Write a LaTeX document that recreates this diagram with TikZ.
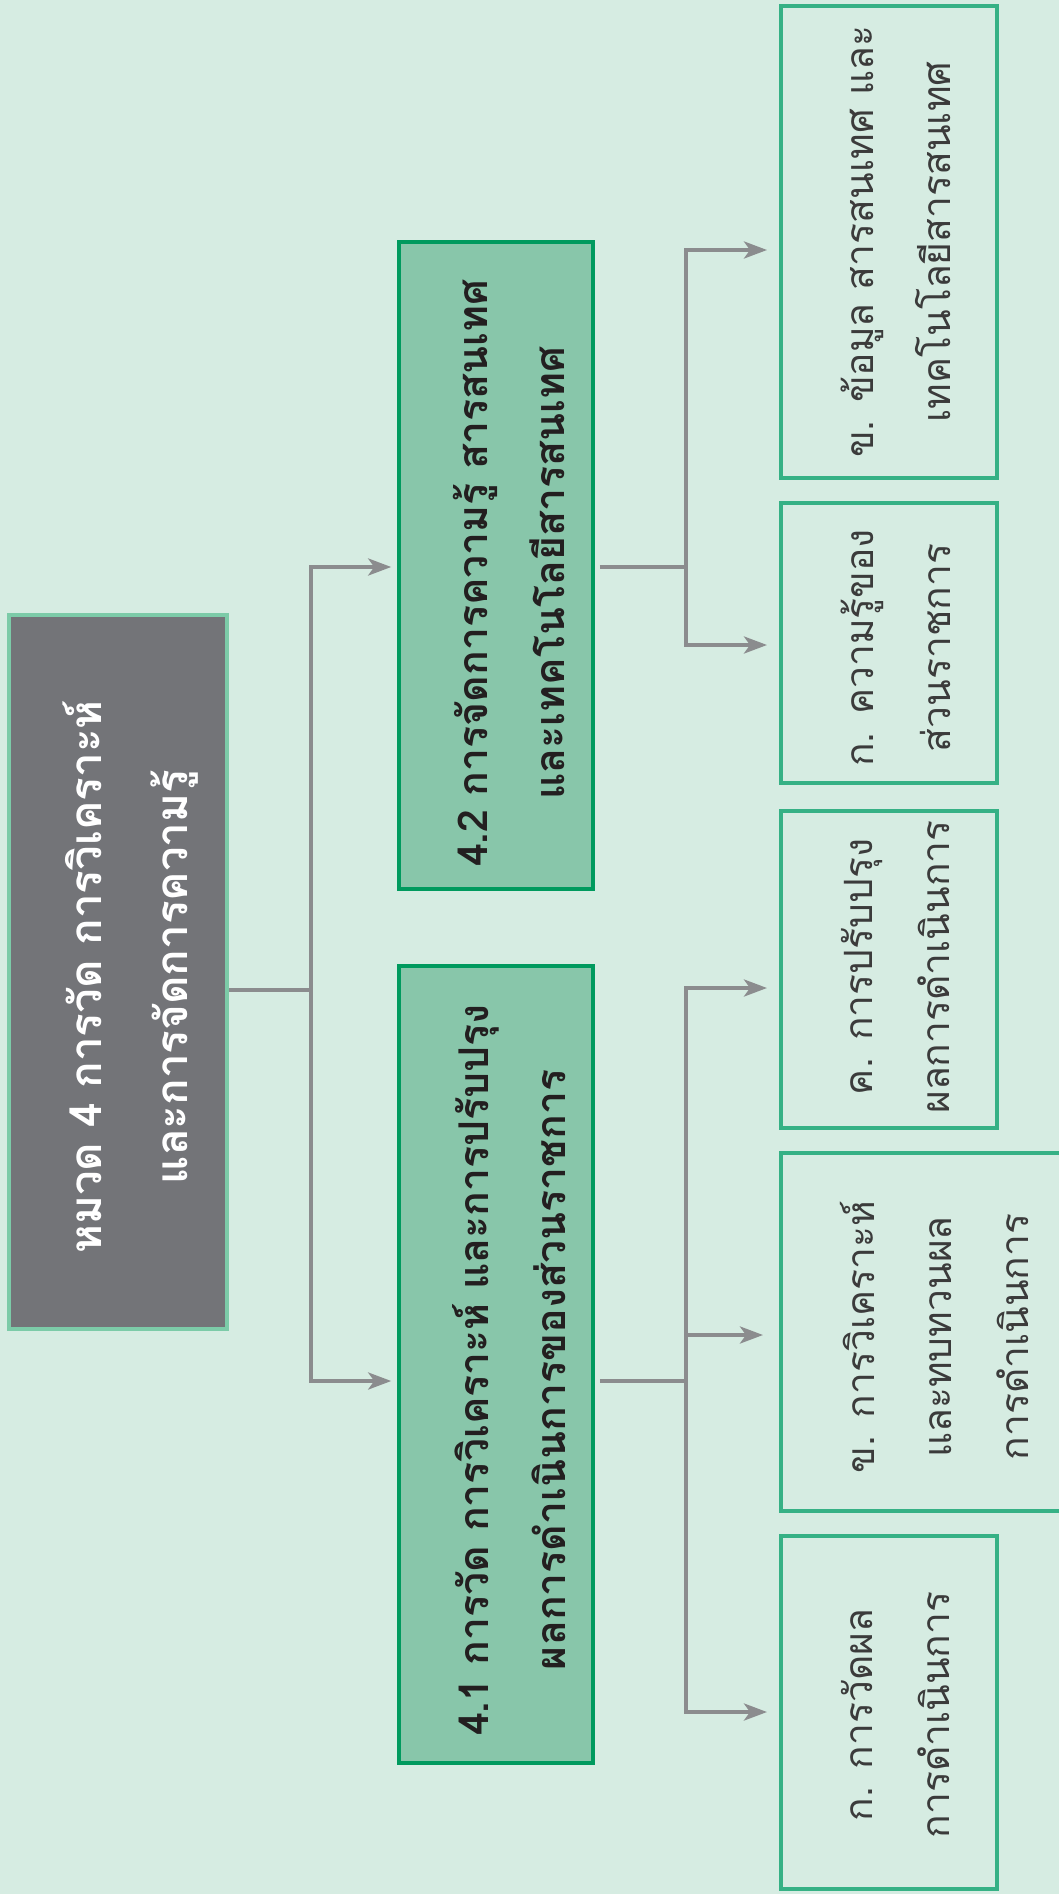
\documentclass[tikz,border=0pt]{standalone}
\usepackage{fontspec}
\newfontfamily\thaifont[Script=Thai]{Loma}
\usetikzlibrary{arrows.meta}
\definecolor{bgc}{HTML}{D6ECE2}
\definecolor{mainfill}{HTML}{737478}
\definecolor{mainline}{HTML}{7CCBA8}
\definecolor{midfill}{HTML}{88C6AA}
\definecolor{midline}{HTML}{009A5E}
\definecolor{leafline}{HTML}{36B185}
\definecolor{conncol}{HTML}{8B8C8E}
\definecolor{leaftext}{HTML}{3B3B3B}
\definecolor{midtext}{HTML}{231F20}
\tikzset{
  mainbox/.style={draw=mainline, fill=mainfill, line width=4pt, inner sep=0pt},
  midbox/.style={draw=midline, fill=midfill, line width=3.6pt, inner sep=0pt},
  leafbox/.style={draw=leafline, fill=bgc, line width=4pt, inner sep=0pt},
  txt/.style={rotate=90, align=center, inner sep=0pt},
  maintext/.style={txt, text=white, font=\thaifont\bfseries\fontsize{44pt}{86pt}\selectfont},
  midtext/.style={txt, text=midtext, font=\thaifont\bfseries\fontsize{41pt}{77pt}\selectfont},
  leaftextst/.style={txt, text=leaftext, font=\thaifont\fontsize{39pt}{77pt}\selectfont},
  conn/.style={draw=conncol, line width=3.8pt, line join=miter},
  tip/.tip={Stealth[length=23pt,width=17pt,inset=6pt]},
}
\begin{document}
\begin{tikzpicture}[x=1pt,y=-1pt]
\fill[bgc] (0,0) rectangle (1059,1894);
\useasboundingbox (0,0) rectangle (1059,1894);

% boxes
\node[mainbox, minimum width=218, minimum height=714] (main) at (118,972) {};
\node[midbox, minimum width=194, minimum height=647] (m42) at (496,565.5) {};
\node[midbox, minimum width=194, minimum height=797] (m41) at (496,1364.5) {};
\node[leafbox, minimum width=216, minimum height=472] (l1) at (889,242) {};
\node[leafbox, minimum width=216, minimum height=280] (l2) at (889,643) {};
\node[leafbox, minimum width=216, minimum height=317] (l3) at (889,969.5) {};
\node[leafbox, minimum width=299, minimum height=358] (l4) at (930.5,1332) {};
\node[leafbox, minimum width=216, minimum height=353] (l5) at (889,1712.5) {};

% texts
\node[maintext] (tmain) at (131,977) {หมวด 4 การวัด การวิเคราะห์\\และการจัดการความรู้};
\node[midtext] (t42) at (509,573) {4.2 การจัดการความรู้ สารสนเทศ\\และเทคโนโลยีสารสนเทศ};
\node[midtext] (t41) at (509,1370) {4.1 การวัด การวิเคราะห์ และการปรับปรุง\\ผลการดำเนินการของส่วนราชการ};
\node[leaftextst] (tl1) at (896,242) {ข. ข้อมูล สารสนเทศ และ\\เทคโนโลยีสารสนเทศ};
\node[leaftextst] (tl2) at (896,648) {ก. ความรู้ของ\\ส่วนราชการ};
\node[leaftextst] (tl3) at (896,967) {ค. การปรับปรุง\\ผลการดำเนินการ};
\node[leaftextst] (tl4) at (934,1337) {ข. การวิเคราะห์\\และทบทวนผล\\การดำเนินการ};
\node[leaftextst] (tl5) at (896,1715) {ก. การวัดผล\\การดำเนินการ};

% junction coordinates
\coordinate (j0) at (311,990);
\coordinate (j0a) at (311,567);
\coordinate (j0b) at (311,1381);
\coordinate (j1) at (686,567);
\coordinate (j1a) at (686,250);
\coordinate (j1b) at (686,645);
\coordinate (j2) at (686,1381);
\coordinate (j2a) at (686,988);
\coordinate (j2m) at (686,1335);
\coordinate (j2b) at (686,1712);

% connectors from main box
\draw[conn] (main.east |- j0) -- (j0);
\draw[conn, {tip}-{tip}, shorten <=6pt, shorten >=6pt] (m42.west |- j0a) -- (j0a) -- (j0b) -- (m41.west |- j0b);

% connectors from 4.2
\draw[conn, shorten <=5pt] (m42.east |- j1) -- (j1);
\draw[conn, {tip}-{tip}, shorten <=12pt, shorten >=12pt] (l1.west |- j1a) -- (j1a) -- (j1b) -- (l2.west |- j1b);

% connectors from 4.1
\draw[conn, shorten <=5pt] (m41.east |- j2) -- (j2);
\draw[conn, {tip}-{tip}, shorten <=12pt, shorten >=12pt] (l3.west |- j2a) -- (j2a) -- (j2b) -- (l5.west |- j2b);
\draw[conn, -{tip}, shorten >=16pt] (j2m) -- (l4.west |- j2m);
\end{tikzpicture}
\end{document}
